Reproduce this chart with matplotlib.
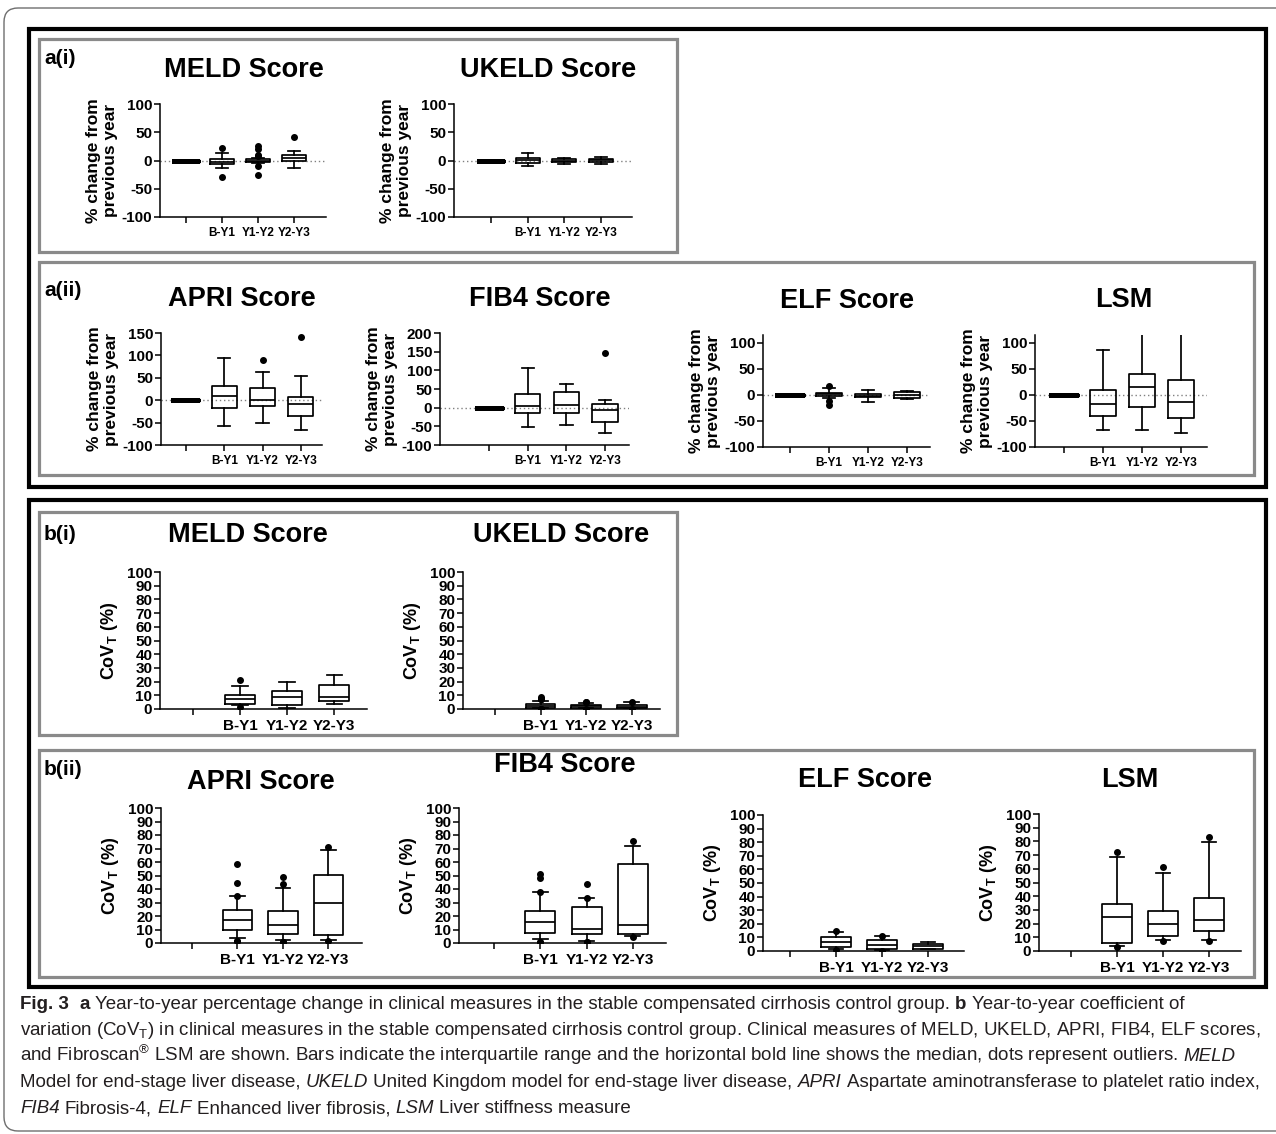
import matplotlib

matplotlib.use("Agg")
import matplotlib.pyplot as plt
from matplotlib import font_manager
from matplotlib.font_manager import FontProperties
from matplotlib.patches import FancyBboxPatch, Rectangle

W, H = 1276, 1134  # output size in pixels (dpi 100)

GROUPS = ["", "B-Y1", "Y1-Y2", "Y2-Y3"]

# each row: [whisker low, q1, median, q3, whisker high] for B-Y1, Y1-Y2, Y2-Y3
# a) % change from previous year
PCT_MELD = [[-14, -6.5, -2, 3.5, 14], [-4, -3, 0, 2, 4], [-13, -1, 4, 10, 16]]
PCT_MELD_OUT = [[23, -29], [25, 21, 10, 8, -10, -25], [41]]
PCT_UKELD = [[-9, -4, 1, 4, 13], [-7, -3, 0, 2.5, 5], [-6, -3, 1, 3.5, 7]]
PCT_UKELD_OUT = [[], [], []]
PCT_APRI = [[-57, -18, 10, 31, 95], [-51, -13, 1, 27, 64], [-66, -36, -8, 8, 54]]
PCT_APRI_OUT = [[], [90], [141]]
PCT_FIB4 = [[-51, -13, 4, 37, 106], [-46, -13, 7, 43, 63], [-69, -38, -6, 9, 21]]
PCT_FIB4_OUT = [[], [], [147]]
PCT_ELF = [[-6, -2.5, 1, 4, 14], [-13, -4, -2, 1, 9], [-7, -6, -1, 5, 8]]
PCT_ELF_OUT = [[18, -12, -19], [], []]
PCT_LSM = [[-68, -41, -17, 9, 87], [-68, -24, 15, 41, 130], [-74, -45, -13, 28, 130]]
PCT_LSM_OUT = [[], [], []]

# b) coefficient of variation (%)
COV_MELD = [[3, 4, 7.5, 10.5, 16.5], [0.7, 3, 8.7, 12.8, 19.4], [3.9, 5.6, 8.7, 17.4, 25]]
COV_MELD_OUT = [[21.5, 1.5], [], []]
COV_UKELD = [[0.5, 1, 2, 3.5, 6], [0.5, 1, 2, 3, 4.4], [0.3, 0.8, 1.7, 2.7, 4.8]]
COV_UKELD_OUT = [[9, 7, 7, 7, 0, 0, 0], [5.3, 5.3, 0], [5.3, 0]]
COV_APRI = [[3.9, 9.5, 17.4, 24.5, 35], [2, 6.4, 13.7, 24, 41], [2, 5.6, 29.4, 50.5, 68.6]]
COV_APRI_OUT = [[58.3, 44.8, 35, 1.2, 1.2], [49, 44, 0.7, 0.7], [71, 1.2]]
COV_FIB4 = [[3, 7.4, 15.4, 24, 37.5], [1.5, 6.9, 10.5, 26.5, 33], [5.5, 6.4, 13.5, 58.5, 72]]
COV_FIB4_OUT = [[48.5, 51, 37.5, 1, 1], [43.6, 33, 0.7, 0.7], [75.5, 4.5]]
COV_ELF = [[1.2, 3, 6.6, 10.3, 14], [0.5, 1.7, 4.2, 8.4, 10.8], [1.2, 1.7, 3.4, 4.9, 6.9]]
COV_ELF_OUT = [[14.5, 0.5], [11.2, 0], []]
COV_LSM = [[3.7, 6, 24.6, 34.5, 68.5], [7.9, 11, 20, 29.5, 57], [7.9, 14.7, 22.6, 39, 79.5]]
COV_LSM_OUT = [[72.5, 2.8], [61.5, 7.4], [83.5, 7.4]]

PCT_LABEL = "% change from\nprevious year"
COV_LABEL = r"CoV$_\mathbf{T}$ (%)"

CAPTION = [
    [("Fig. 3", "bold", "normal"), ("  a", "bold", "normal"),
     (" Year-to-year percentage change in clinical measures in the stable compensated cirrhosis control group. ", "normal", "normal"),
     ("b", "bold", "normal"), (" Year-to-year coefficient of", "normal", "normal")],
    [(r"variation (CoV$_\mathregular{T}$) in clinical measures in the stable compensated cirrhosis control group. "
      "Clinical measures of MELD, UKELD, APRI, FIB4, ELF scores,", "normal", "normal")],
    [(r"and Fibroscan$^\mathregular{®}$ LSM are shown. Bars indicate the interquartile range and the horizontal "
      "bold line shows the median, dots represent outliers. ", "normal", "normal"),
     ("MELD", "normal", "italic")],
    [("Model for end-stage liver disease, ", "normal", "normal"), ("UKELD", "normal", "italic"),
     (" United Kingdom model for end-stage liver disease, ", "normal", "normal"), ("APRI", "normal", "italic"),
     (" Aspartate aminotransferase to platelet ratio index,", "normal", "normal")],
    [("FIB4", "normal", "italic"), (" Fibrosis-4, ", "normal", "normal"), ("ELF", "normal", "italic"),
     (" Enhanced liver fibrosis, ", "normal", "normal"), ("LSM", "normal", "italic"),
     (" Liver stiffness measure", "normal", "normal")],
]

FONT = "Liberation Sans"
_names = {f.name for f in font_manager.fontManager.ttflist}
CAP_FONT = "Liberation Sans Narrow" if "Liberation Sans Narrow" in _names else FONT

plt.rcParams.update(
    {
        "font.family": FONT,
        "mathtext.fontset": "custom",
        "mathtext.rm": FONT,
        "mathtext.bf": FONT + ":bold",
        "mathtext.it": FONT + ":italic",
        "axes.linewidth": 1.0,
        "axes.unicode_minus": False,
    }
)

fig = plt.figure(figsize=(W / 100, H / 100), dpi=100)


def add_ax(left, top, right, bottom):
    return fig.add_axes([left / W, 1 - bottom / H, (right - left) / W, (bottom - top) / H])


def inch_rect(x0, y0, x1, y1):
    # pixel box (top-left origin) -> inches (bottom-left origin)
    return x0 / 100, (H - y1) / 100, (x1 - x0) / 100, (y1 - y0) / 100


LINE = dict(color="black", linewidth=1.25)
FLIER = dict(marker="o", markerfacecolor="black", markeredgecolor="black", markersize=4, linestyle="none")


def draw_panel(stats, outs, title, rect, xlim, ylim, yticks, title_x, title_base, kind):
    ax = add_ax(*rect)
    if kind == "pct":
        ax.axhline(0, color="#808080", lw=1.0, ls=(0, (1, 2)), zorder=0)
        ax.bxp(
            [dict(whislo=0, q1=0, med=0, q3=0, whishi=0, fliers=[])],
            positions=[1], widths=0.65, capwidths=0.3, showfliers=False,
            boxprops=dict(color="black", linewidth=3.5), whiskerprops=LINE,
            capprops=LINE, medianprops=dict(color="black", linewidth=3.5),
            manage_ticks=False,
        )
    bstats = [
        dict(whislo=s[0], q1=s[1], med=s[2], q3=s[3], whishi=s[4], fliers=o)
        for s, o in zip(stats, outs)
    ]
    ax.bxp(
        bstats, positions=[2, 3, 4], widths=0.65, capwidths=0.32,
        boxprops=LINE, whiskerprops=LINE, capprops=LINE, medianprops=LINE,
        flierprops=FLIER, manage_ticks=False,
    )
    ax.set_xlim(*xlim)
    ax.set_ylim(*ylim)
    ax.spines[["top", "right"]].set_visible(False)
    ax.spines[["left", "bottom"]].set_linewidth(1.1)
    ax.set_yticks(list(yticks))
    ax.set_xticks([1, 2, 3, 4])
    ax.set_xticklabels(GROUPS)
    ax.tick_params(direction="out", length=4, width=1.1, pad=1.5)
    ax.tick_params(axis="y", labelsize=11)
    ax.tick_params(axis="x", labelsize=8.5 if kind == "pct" else 11, pad=3)
    for lbl in ax.get_xticklabels() + ax.get_yticklabels():
        lbl.set_fontweight("bold")
    if kind == "pct":
        ax.set_ylabel(PCT_LABEL, fontsize=12.5, fontweight="bold", linespacing=1.15, labelpad=3)
    else:
        ax.set_ylabel(COV_LABEL, fontsize=13, fontweight="bold", labelpad=5)
    fig.text(title_x / W, 1 - title_base / H, title, ha="center", va="baseline",
             fontsize=19.5, fontweight="bold")
    return ax


PANELS = [
    (PCT_MELD, PCT_MELD_OUT, "MELD Score", (160, 104, 326, 217), (0.28, 4.89), (-100, 100), range(-100, 101, 50), 244, 77, "pct"),
    (PCT_UKELD, PCT_UKELD_OUT, "UKELD Score", (454, 104, 632, 217), (0.0, 4.84), (-100, 100), range(-100, 101, 50), 548, 77, "pct"),
    (PCT_APRI, PCT_APRI_OUT, "APRI Score", (161, 333, 322, 445), (0.35, 4.55), (-100, 150), range(-100, 151, 50), 242, 306, "pct"),
    (PCT_FIB4, PCT_FIB4_OUT, "FIB4 Score", (440, 333, 629, 445), (-0.27, 4.62), (-100, 200), range(-100, 201, 50), 540, 306, "pct"),
    (PCT_ELF, PCT_ELF_OUT, "ELF Score", (763, 335, 930, 447), (0.31, 4.59), (-100, 115), range(-100, 101, 50), 847, 308, "pct"),
    (PCT_LSM, PCT_LSM_OUT, "LSM", (1035, 335, 1207, 447), (0.26, 4.67), (-100, 115), range(-100, 101, 50), 1124, 307, "pct"),
    (COV_MELD, COV_MELD_OUT, "MELD Score", (160, 572, 367, 709), (0.3, 4.7), (0, 100), range(0, 101, 10), 248, 542, "cov"),
    (COV_UKELD, COV_UKELD_OUT, "UKELD Score", (463, 572, 660, 709), (0.3, 4.62), (0, 100), range(0, 101, 10), 561, 542, "cov"),
    (COV_APRI, COV_APRI_OUT, "APRI Score", (161, 808, 362, 943), (0.32, 4.74), (0, 100), range(0, 101, 10), 261, 789, "cov"),
    (COV_FIB4, COV_FIB4_OUT, "FIB4 Score", (459, 808, 666, 943), (0.24, 4.72), (0, 100), range(0, 101, 10), 565, 772, "cov"),
    (COV_ELF, COV_ELF_OUT, "ELF Score", (763, 815, 964, 951), (0.41, 4.78), (0, 100), range(0, 101, 10), 865, 787, "cov"),
    (COV_LSM, COV_LSM_OUT, "LSM", (1039, 814, 1241, 951), (0.3, 4.7), (0, 100), range(0, 101, 10), 1130, 787, "cov"),
]

for spec in PANELS:
    draw_panel(*spec)

# frames: outer rounded border, black section boxes, grey sub-panels
ox, oy, ow, oh = inch_rect(4, 8, 1295, 1131)
fig.add_artist(FancyBboxPatch(
    (ox, oy), ow, oh, boxstyle="round,pad=0,rounding_size=0.14",
    transform=fig.dpi_scale_trans, fill=False, ec="#6e6e6e", lw=1.0))
for box in [(29, 29, 1266, 486.5), (29, 500, 1266, 987)]:
    x, y, w, h = inch_rect(*box)
    fig.add_artist(Rectangle((x, y), w, h, transform=fig.dpi_scale_trans,
                             fill=False, ec="black", lw=3.0))
for box in [(38.5, 38.5, 677, 251.5), (38.5, 262, 1254, 474.5),
            (38.5, 511.5, 677, 735), (38.5, 750, 1254, 976.5)]:
    x, y, w, h = inch_rect(*box)
    fig.add_artist(Rectangle((x, y), w, h, transform=fig.dpi_scale_trans,
                             fill=False, ec="#8a8a8a", lw=2.3))

for label, lx, lb in [("a(i)", 44, 64), ("a(ii)", 44, 296), ("b(i)", 44, 540), ("b(ii)", 44, 775)]:
    fig.text(lx / W, 1 - lb / H, label, fontsize=15, fontweight="bold", va="baseline")

# caption, laid out run by run so bold / italic words sit inline
renderer = fig.canvas.get_renderer()


def text_width(s, size, weight="normal", style="normal"):
    prop = FontProperties(family=CAP_FONT, size=size, weight=weight, style=style)
    w, _, _ = renderer.get_text_width_height_descent(s, prop, ismath="$" in s)
    return w


probe = "".join(r[0] for r in CAPTION[1])
cap_size = 10 * 1242 / text_width(probe, 10)
space_w = text_width("x x", cap_size) - text_width("xx", cap_size)

for i, runs in enumerate(CAPTION):
    x = 20
    y = 1009 + 26 * i
    for s, weight, style in runs:
        core = s.strip(" ")
        lead = len(s) - len(s.lstrip(" "))
        trail = len(s) - len(s.rstrip(" "))
        x += lead * space_w
        fig.text(x / W, 1 - y / H, core, fontsize=cap_size, family=CAP_FONT,
                 fontweight=weight, fontstyle=style, color="#231f20", va="baseline")
        x += text_width(core, cap_size, weight, style) + trail * space_w

fig.savefig("out.png", dpi=100)
